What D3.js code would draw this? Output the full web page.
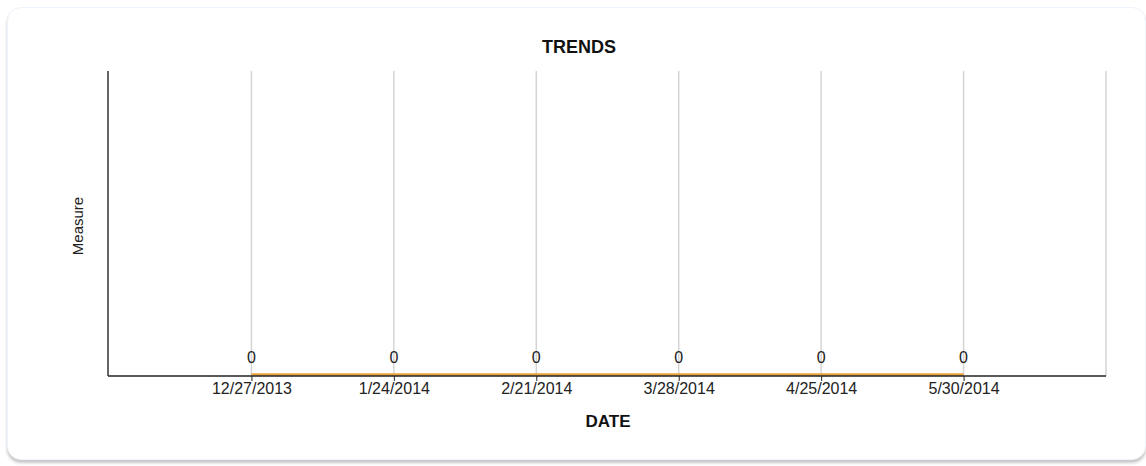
<!DOCTYPE html>
<html>
<head>
<meta charset="utf-8">
<script src="https://cdn.jsdelivr.net/npm/d3@7"></script>
<style>
  body { margin: 0; background: #fff; font-family: "Liberation Sans", Arial, sans-serif; }
  .card {
    position: absolute; left: 7px; top: 7px; width: 1139px; height: 453px;
    border-radius: 14px; background: #fff;
    border: 1px solid #eef4fb;
    box-shadow: 0 3px 3px #c8c8c8;
    box-sizing: border-box;
  }
  svg { position: absolute; left: 0; top: 0; }
</style>
</head>
<body>
<div class="card"></div>
<svg width="1146" height="466"></svg>
<script>
// chart values
const dates = ["12/27/2013", "1/24/2014", "2/21/2014", "3/28/2014", "4/25/2014", "5/30/2014"];
const measures = [0, 0, 0, 0, 0, 0];

const svg = d3.select("svg");

const plotLeft = 109, plotRight = 1106, plotTop = 71, plotBottom = 376;

const x = d3.scalePoint().domain(dates).range([plotLeft, plotRight]).padding(1);
const y = d3.scaleLinear().domain([0, 1]).range([plotBottom, plotTop]);

const data = dates.map(function(d, i) { return { date: d, value: measures[i] }; });

// vertical grid
svg.selectAll("line.grid")
  .data(dates.map(x).concat([plotRight]))
  .join("line")
  .attr("class", "grid")
  .attr("x1", d => d).attr("x2", d => d)
  .attr("y1", plotTop).attr("y2", plotBottom)
  .attr("stroke", "#d4d4d4")
  .attr("stroke-width", 1.5);

// series line
svg.append("path")
  .datum(data)
  .attr("fill", "none")
  .attr("stroke", "#e8a23c")
  .attr("stroke-width", 2.5)
  .attr("d", d3.line().x(d => x(d.date)).y(d => y(d.value) - 1.5));

// x axis
const xAxis = svg.append("g")
  .attr("transform", "translate(0," + plotBottom + ")")
  .call(d3.axisBottom(x).tickSize(5).tickPadding(2));
xAxis.select(".domain").remove();
xAxis.selectAll(".tick line").attr("stroke", "#222");
xAxis.selectAll("text")
  .attr("fill", "#222")
  .style("font-family", "'Liberation Sans', Arial, sans-serif")
  .style("font-size", "16px");

svg.append("line")
  .attr("x1", plotLeft - 1).attr("x2", plotRight)
  .attr("y1", plotBottom).attr("y2", plotBottom)
  .attr("stroke", "#222").attr("stroke-width", 1.5);

svg.append("line")
  .attr("x1", plotLeft - 1).attr("x2", plotLeft - 1)
  .attr("y1", plotTop).attr("y2", plotBottom)
  .attr("stroke", "#333").attr("stroke-width", 1.5);

// value labels
svg.selectAll("text.val")
  .data(data)
  .join("text")
  .attr("class", "val")
  .attr("x", d => x(d.date))
  .attr("y", d => y(d.value) - 13)
  .attr("text-anchor", "middle")
  .attr("fill", "#222")
  .style("font-size", "16px")
  .text(d => d.value);

// titles
svg.append("text")
  .attr("x", 579).attr("y", 53)
  .attr("text-anchor", "middle")
  .style("font-size", "18px").style("font-weight", "bold")
  .attr("fill", "#111")
  .text("TRENDS");

svg.append("text")
  .attr("x", 608).attr("y", 427)
  .attr("text-anchor", "middle")
  .style("font-size", "17px").style("font-weight", "bold")
  .attr("fill", "#111")
  .text("DATE");

svg.append("text")
  .attr("transform", "translate(83,226) rotate(-90)")
  .attr("text-anchor", "middle")
  .style("font-size", "15px")
  .attr("fill", "#222")
  .text("Measure");
</script>
</body>
</html>
